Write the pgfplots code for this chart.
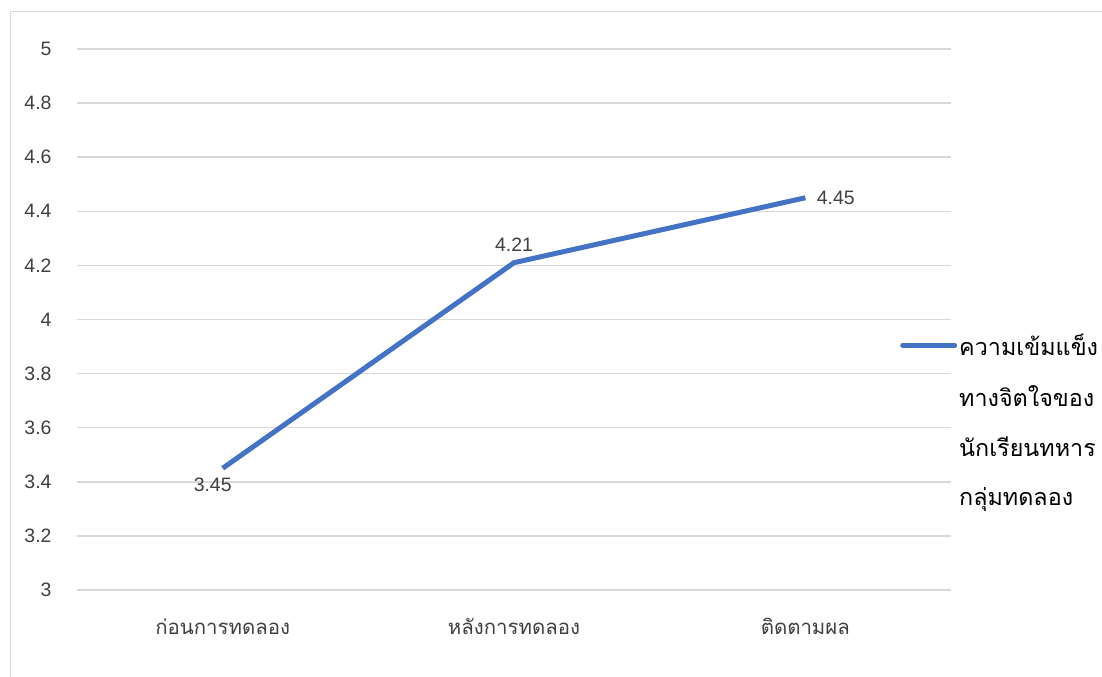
\documentclass[border=0pt]{standalone}
\usepackage{pgfplots}
\pgfplotsset{compat=1.18}
\usepackage{fontspec}
\setmainfont{Liberation Sans}
\newfontfamily\thaifont[Script=Thai,Scale=1.05]{Loma}

\definecolor{seriesblue}{RGB}{68,114,196}
\definecolor{gridgrey}{RGB}{217,217,217}
\definecolor{labelgrey}{RGB}{64,64,64}

\begin{document}
\begin{tikzpicture}[x=1bp,y=1bp]
\useasboundingbox (0,0) rectangle (1102,677);
\fill[white] (0,0) rectangle (1102,677);
% outer chart frame (continues past the right and bottom edges)
\draw[gridgrey, line width=1.5bp] (10.5,-20) -- (10.5,665.5) -- (1130,665.5);
\coordinate (plotorigin) at (77,87);
\begin{axis}[
  at={(plotorigin)}, anchor=south west,
  scale only axis, width=874bp, height=541bp,
  xmin=-0.5, xmax=2.5, ymin=3, ymax=5,
  ytick={3,3.2,3.4,3.6,3.8,4,4.2,4.4,4.6,4.8,5},
  xtick={0,1,2},
  xticklabels={{\thaifont ก่อนการทดลอง},{\thaifont หลังการทดลอง},{\thaifont ติดตามผล}},
  ymajorgrids, grid style={gridgrey, line width=1.5bp},
  axis line style={draw=none}, tick style={draw=none},
  /pgf/number format/assume math mode=true,
  ticklabel style={font=\fontsize{19.5}{23}\selectfont, text=labelgrey},
  yticklabel style={xshift=-22bp},
  xticklabel style={yshift=-25bp},
  legend style={at={(1.0,0.5)}, anchor=west, draw=none, fill=none,
    xshift=-54bp, yshift=-26bp,
    font=\fontsize{22.3}{26}\selectfont, text=black},
  legend cell align=left,
  legend image code/.code={\draw[#1, line cap=round] (0bp,0bp) -- (52bp,0bp);},
]
\addplot[seriesblue, line width=5bp, line join=round] coordinates {(0,3.45) (1,4.21) (2,4.45)};
\addlegendentry{\thaifont\begin{tabular}[t]{@{}l@{}}ความเข้มแข็ง\\[22.5bp]ทางจิตใจของ\\[22.5bp]นักเรียนทหาร\\[22.5bp]กลุ่มทดลอง\end{tabular}}
% value labels
\addplot[forget plot, draw=none, nodes near coords, point meta=explicit symbolic,
  nodes near coords style={anchor=north, font=\fontsize{19.5}{23}\selectfont, text=labelgrey, xshift=-10bp, yshift=-6bp}]
  coordinates {(0,3.45) [3.45]};
\addplot[forget plot, draw=none, nodes near coords, point meta=explicit symbolic,
  nodes near coords style={anchor=south, font=\fontsize{19.5}{23}\selectfont, text=labelgrey, yshift=8bp}]
  coordinates {(1,4.21) [4.21]};
\addplot[forget plot, draw=none, nodes near coords, point meta=explicit symbolic,
  nodes near coords style={anchor=west, font=\fontsize{19.5}{23}\selectfont, text=labelgrey, xshift=8bp}]
  coordinates {(2,4.45) [4.45]};
\end{axis}
\end{tikzpicture}
\end{document}
